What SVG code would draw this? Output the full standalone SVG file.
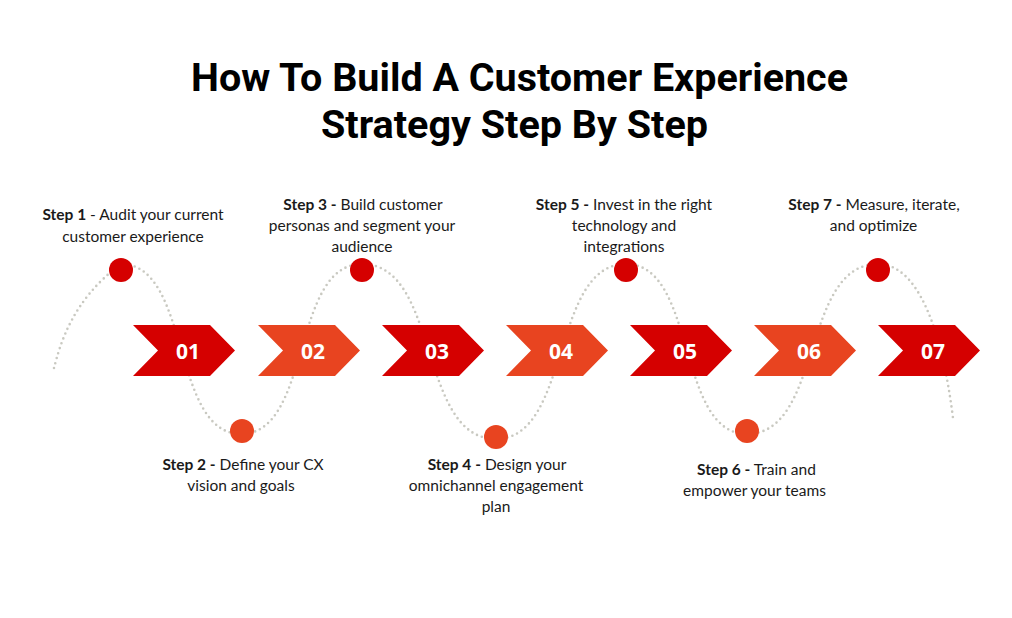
<svg xmlns="http://www.w3.org/2000/svg" width="1012" height="618" viewBox="0 0 1012 618">
<defs>
<style>
.title{font-family:Roboto,"Liberation Sans",sans-serif;font-weight:700;font-size:38px;fill:#000;text-anchor:middle}
.lbl{font-family:Lato,"Open Sans",sans-serif;font-size:15.5px;fill:#1a1a1a;text-anchor:middle}
.lbl .b{font-weight:700}
.num{font-family:"Open Sans","Noto Sans",sans-serif;font-weight:700;font-size:21px;fill:#fff;text-anchor:middle}
.red{fill:#D50000}
.org{fill:#E84420}
.wave{fill:none;stroke:#c9c9c1;stroke-width:2.6;stroke-linecap:round;stroke-dasharray:0 5.2}
</style>
<path id="chev" d="M0,0 H77 L102,25.5 L77,51 H0 L25,25.5 Z"/>
</defs>
<rect width="1012" height="618" fill="#fff"/>
<g id="title">
<text class="title" x="519.5" y="91" textLength="657" lengthAdjust="spacingAndGlyphs">How To Build A Customer Experience</text>
<text class="title" x="514.5" y="138" textLength="387" lengthAdjust="spacingAndGlyphs">Strategy Step By Step</text>
</g>
<g id="connectors">
<path class="wave" d="M54,368 C60,345 72,300 121,264 C191,264 171,434 241,434 C312,434 291,264 362,264 C440,264 418,439 496,439 C571,439 551,264 626,264 C697,264 676,434 747,434 C823,434 801,264 878,264 C918,264 942,330 953,418"/>
</g>
<g id="step1">
<use href="#chev" x="133" y="325" class="red"/>
<text class="num" x="188" y="358.5">01</text>
<circle cx="121" cy="270" r="12" class="red"/>
<text class="lbl" x="133" y="220"><tspan class="b">Step 1</tspan> - Audit your current</text>
<text class="lbl" x="133" y="241.5">customer experience</text>
</g>
<g id="step2">
<use href="#chev" x="258" y="325" class="org"/>
<text class="num" x="313" y="358.5">02</text>
<circle cx="242" cy="431" r="12" class="org"/>
<text class="lbl" x="243" y="469.5"><tspan class="b">Step 2 -</tspan> Define your CX</text>
<text class="lbl" x="241" y="491">vision and goals</text>
</g>
<g id="step3">
<use href="#chev" x="382" y="325" class="red"/>
<text class="num" x="437" y="358.5">03</text>
<circle cx="362" cy="270" r="12" class="red"/>
<text class="lbl" x="363" y="209.5"><tspan class="b">Step 3 -</tspan> Build customer</text>
<text class="lbl" x="362" y="230.5">personas and segment your</text>
<text class="lbl" x="362" y="251.5">audience</text>
</g>
<g id="step4">
<use href="#chev" x="506" y="325" class="org"/>
<text class="num" x="561" y="358.5">04</text>
<circle cx="496" cy="437" r="12" class="org"/>
<text class="lbl" x="497" y="469.5"><tspan class="b">Step 4 -</tspan> Design your</text>
<text class="lbl" x="496" y="491">omnichannel engagement</text>
<text class="lbl" x="496" y="512">plan</text>
</g>
<g id="step5">
<use href="#chev" x="630" y="325" class="red"/>
<text class="num" x="685" y="358.5">05</text>
<circle cx="626" cy="270" r="12" class="red"/>
<text class="lbl" x="624" y="209.5"><tspan class="b">Step 5 -</tspan> Invest in the right</text>
<text class="lbl" x="624" y="230.5">technology and</text>
<text class="lbl" x="624" y="251.5">integrations</text>
</g>
<g id="step6">
<use href="#chev" x="754" y="325" class="org"/>
<text class="num" x="809" y="358.5">06</text>
<circle cx="747" cy="431" r="12" class="org"/>
<text class="lbl" x="756.5" y="474.5"><tspan class="b">Step 6 -</tspan> Train and</text>
<text class="lbl" x="754.5" y="496">empower your teams</text>
</g>
<g id="step7">
<use href="#chev" x="878" y="325" class="red"/>
<text class="num" x="933" y="358.5">07</text>
<circle cx="878" cy="270" r="12" class="red"/>
<text class="lbl" x="874" y="209.5"><tspan class="b">Step 7 -</tspan> Measure, iterate,</text>
<text class="lbl" x="873.5" y="231">and optimize</text>
</g>
</svg>
